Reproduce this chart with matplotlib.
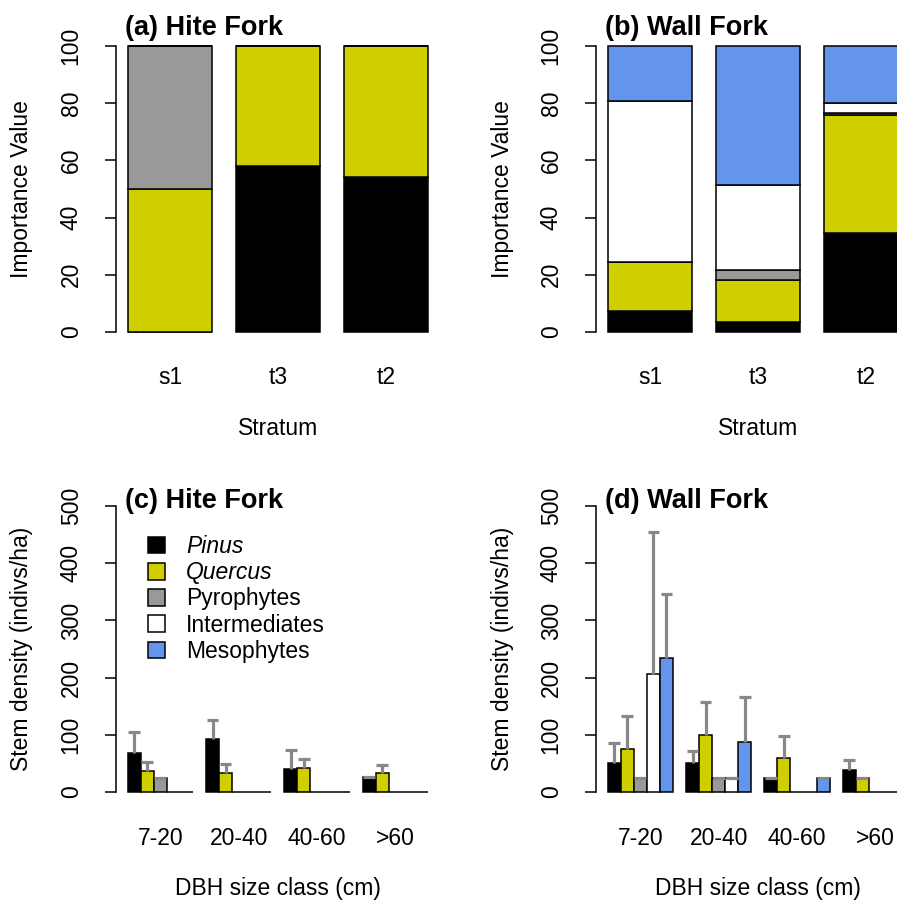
import numpy as np
import matplotlib
matplotlib.use("Agg")
import matplotlib.pyplot as plt
from matplotlib.patches import Patch

plt.rcParams['font.family'] = ['Liberation Sans', 'DejaVu Sans']

groups = ['Pinus', 'Quercus', 'Pyrophytes', 'Intermediates', 'Mesophytes']
colors = ['#000000', '#CFCF00', '#999999', '#FFFFFF', '#6495ED']

# importance values per stratum (stacked)
strata = ['s1', 't3', 't2']
iv_hite = {
    'Pinus':         [0.0, 58.0, 54.3],
    'Quercus':       [50.0, 42.0, 45.7],
    'Pyrophytes':    [50.0, 0.0, 0.0],
    'Intermediates': [0.0, 0.0, 0.0],
    'Mesophytes':    [0.0, 0.0, 0.0],
}
iv_wall = {
    'Pinus':         [7.3, 3.5, 34.7],
    'Quercus':       [17.1, 14.8, 41.1],
    'Pyrophytes':    [0.0, 3.4, 0.9],
    'Intermediates': [56.5, 29.6, 3.4],
    'Mesophytes':    [19.1, 48.7, 19.9],
}

# stem density by DBH class, mean and SE
size_classes = ['7-20', '20-40', '40-60', '>60']
dens_hite = {
    'Pinus':         [68, 93, 41, 26],
    'Quercus':       [37, 34, 42, 34],
    'Pyrophytes':    [25, 0, 0, 0],
    'Intermediates': [0, 0, 0, 0],
    'Mesophytes':    [0, 0, 0, 0],
}
se_hite = {
    'Pinus':         [37, 33, 33, 0],
    'Quercus':       [15, 15, 15, 13],
    'Pyrophytes':    [0, 0, 0, 0],
    'Intermediates': [0, 0, 0, 0],
    'Mesophytes':    [0, 0, 0, 0],
}
dens_wall = {
    'Pinus':         [51, 51, 25, 38],
    'Quercus':       [76, 100, 59, 25],
    'Pyrophytes':    [25, 25, 0, 0],
    'Intermediates': [206, 25, 0, 0],
    'Mesophytes':    [234, 88, 25, 0],
}
se_wall = {
    'Pinus':         [35, 21, 0, 18],
    'Quercus':       [57, 57, 38, 0],
    'Pyrophytes':    [0, 0, 0, 0],
    'Intermediates': [249, 0, 0, 0],
    'Mesophytes':    [113, 78, 0, 0],
}

W, H = 897, 901
fig = plt.figure(figsize=(W / 100, H / 100), dpi=100)
FS = 16.5
TFS = 19.5
LW = 1.1


def add_ax(x0, x1, ytop, ybot):
    return fig.add_axes([x0 / W, 1 - ybot / H, (x1 - x0) / W, (ybot - ytop) / H])


def ftext(x, y, s, **kw):
    fig.text(x / W, 1 - y / H, s, **kw)


def style(ax, top):
    for s in ['top', 'right', 'bottom']:
        ax.spines[s].set_visible(False)
    ax.spines['left'].set_bounds(0, top)
    ax.spines['left'].set_linewidth(LW)
    ax.tick_params(axis='y', length=8, width=LW, pad=16, labelsize=FS)
    ax.tick_params(axis='x', length=0, labelsize=FS)
    for lab in ax.get_yticklabels():
        lab.set_rotation(90)
        lab.set_va('center')


def stacked(ax, data):
    x = np.arange(len(strata))
    bottom = np.zeros(len(strata))
    for g, c in zip(groups, colors):
        v = np.array(data[g])
        ax.bar(x, v, 0.778, bottom=bottom, color=c, edgecolor='black', linewidth=LW)
        bottom += v
    ax.set_xlim(-0.5, 2.5)
    ax.set_ylim(-4, 104)
    ax.set_yticks([0, 20, 40, 60, 80, 100])
    ax.set_xticks(x)
    ax.set_xticklabels(strata)
    style(ax, 100)
    ax.tick_params(axis='x', pad=16)


def grouped(ax, data, se):
    starts = np.array([1, 7, 13, 19])
    for i, (g, c) in enumerate(zip(groups, colors)):
        x = starts + i + 0.5
        v = np.array(data[g], dtype=float)
        e = np.array(se[g], dtype=float)
        ax.bar(x, v, 1.0, color=c, edgecolor='black', linewidth=LW, zorder=2)
        m = v > 0
        ax.vlines(x[m], v[m], v[m] + e[m], color='#888888', linewidth=2.3, zorder=3)
        ax.hlines(v[m] + e[m], x[m] - 0.45, x[m] + 0.45, color='#888888', linewidth=2.3, zorder=3)
    ax.set_xlim(0.1, 24.9)
    ax.set_ylim(-20, 520)
    ax.set_yticks([0, 100, 200, 300, 400, 500])
    ax.set_xticks(starts + 2.5)
    ax.set_xticklabels(size_classes)
    style(ax, 500)
    ax.tick_params(axis='x', pad=17)


ax_a = add_ax(116, 440, 34.6, 343.4)
stacked(ax_a, iv_hite)
ax_b = add_ax(596, 920, 34.6, 343.4)
stacked(ax_b, iv_wall)
ax_c = add_ax(116, 439.6, 494.6, 803.4)
grouped(ax_c, dens_hite, se_hite)
ax_d = add_ax(596, 919.6, 494.6, 803.4)
grouped(ax_d, dens_wall, se_wall)

# panel titles
ftext(125, 35, '(a) Hite Fork', fontsize=TFS, fontweight='bold', va='baseline')
ftext(605, 35, '(b) Wall Fork', fontsize=TFS, fontweight='bold', va='baseline')
ftext(125, 508, '(c) Hite Fork', fontsize=TFS, fontweight='bold', va='baseline')
ftext(605, 508, '(d) Wall Fork', fontsize=TFS, fontweight='bold', va='baseline')

# axis labels
for xo in (0, 480):
    ftext(22 + xo, 189, 'Importance Value', fontsize=FS, rotation=90, ha='center', va='center')
    ftext(278 + xo, 429, 'Stratum', fontsize=FS, ha='center', va='center')
    ftext(22 + xo, 649, 'Stem density (indivs/ha)', fontsize=FS, rotation=90, ha='center', va='center')
    ftext(278 + xo, 888, 'DBH size class (cm)', fontsize=FS, ha='center', va='center')

handles = [Patch(facecolor=c, edgecolor='black', linewidth=LW) for c in colors]
leg = ax_c.legend(handles, groups, loc='upper left', bbox_to_anchor=(0.099, 0.869),
                  frameon=False, fontsize=FS, borderpad=0, borderaxespad=0,
                  handlelength=0.75, handleheight=0.75, handletextpad=0.92, labelspacing=0.14)
for t in leg.get_texts()[:2]:
    t.set_style('italic')

fig.savefig('out.png', dpi=100)
